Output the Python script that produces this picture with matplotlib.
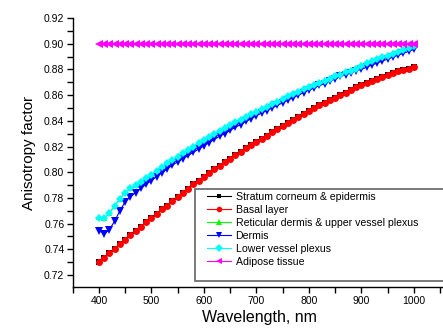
import matplotlib
matplotlib.use("Agg")
import matplotlib.pyplot as plt
from matplotlib.patches import Rectangle
from matplotlib.ticker import MultipleLocator, FormatStrFormatter

wavelength = list(range(400, 1001, 10))

basal = [0.730, 0.7335, 0.737, 0.7405, 0.744, 0.7475, 0.751, 0.7545, 0.7575, 0.761,
         0.764, 0.7675, 0.771, 0.774, 0.7775, 0.781, 0.784, 0.787, 0.7905, 0.7935,
         0.7965, 0.7995, 0.8025, 0.805, 0.808, 0.8105, 0.8135, 0.816, 0.8185, 0.821,
         0.8235, 0.826, 0.8285, 0.831, 0.8335, 0.836, 0.8385, 0.841, 0.843, 0.8455,
         0.848, 0.850, 0.852, 0.854, 0.856, 0.858, 0.860, 0.862, 0.864, 0.866,
         0.868, 0.8695, 0.871, 0.8725, 0.874, 0.8755, 0.877, 0.8785, 0.8795, 0.8805,
         0.8815]
stratum = list(basal)

dermis = [0.7545, 0.752, 0.7553, 0.762, 0.770, 0.777, 0.781, 0.784, 0.7875, 0.7906,
          0.7935, 0.7965, 0.7995, 0.8025, 0.8055, 0.808, 0.8105, 0.813, 0.8155, 0.818,
          0.8205, 0.823, 0.8255, 0.828, 0.830, 0.8325, 0.835, 0.837, 0.8395, 0.8415,
          0.844, 0.846, 0.848, 0.850, 0.852, 0.854, 0.856, 0.858, 0.860, 0.862,
          0.864, 0.8655, 0.8675, 0.869, 0.871, 0.8725, 0.8745, 0.876, 0.8775, 0.879,
          0.880, 0.8817, 0.8833, 0.8849, 0.8865, 0.888, 0.8896, 0.891, 0.8925, 0.894,
          0.8955]

lower_plexus = [0.7646, 0.764, 0.768, 0.7737, 0.779, 0.784, 0.7875, 0.790, 0.7926, 0.7952,
                0.798, 0.801, 0.804, 0.807, 0.8095, 0.812, 0.815, 0.8175, 0.820, 0.8225,
                0.825, 0.8275, 0.830, 0.832, 0.8345, 0.8365, 0.839, 0.841, 0.843, 0.845,
                0.847, 0.849, 0.851, 0.853, 0.855, 0.857, 0.859, 0.8608, 0.8625, 0.8645,
                0.866, 0.8678, 0.8695, 0.871, 0.8728, 0.8745, 0.876, 0.8776, 0.879, 0.8805,
                0.883, 0.8846, 0.8862, 0.8878, 0.8893, 0.8908, 0.8922, 0.8937, 0.8951, 0.8966,
                0.898]
reticular = [v + 0.0003 for v in lower_plexus]

adipose = [0.90] * len(wavelength)

labels = ["Stratum corneum & epidermis", "Basal layer",
          "Reticular dermis & upper vessel plexus", "Dermis",
          "Lower vessel plexus", "Adipose tissue"]

plt.rcParams['font.family'] = ['Liberation Sans', 'DejaVu Sans']

W, H = 443, 335
fig = plt.figure(figsize=(W / 100, H / 100), dpi=100)
ax = fig.add_axes([72.7 / W, (H - 287.3) / H, 710 * 0.5247 / W, 269.3 / H])

series = [
    (stratum, 'black', 's', 4.3),
    (basal, '#ff0000', 'o', 5.0),
    (reticular, '#00ff00', '^', 5.0),
    (dermis, '#0000ff', 'v', 5.5),
    (lower_plexus, '#00ffff', 'D', 4.5),
    (adipose, '#ff00ff', '<', 5.2),
]
handles = []
for (vals, col, mk, ms), lab in zip(series, labels):
    h, = ax.plot(wavelength, vals, color=col, marker=mk, markersize=ms,
                 linewidth=0.8, markeredgewidth=0, label=lab)
    handles.append(h)

ax.set_xlim(350, 1060)
ax.set_ylim(0.71043, 0.92)
ax.xaxis.set_major_locator(MultipleLocator(100))
ax.xaxis.set_minor_locator(MultipleLocator(50))
ax.yaxis.set_major_locator(MultipleLocator(0.02))
ax.yaxis.set_minor_locator(MultipleLocator(0.01))
ax.yaxis.set_major_formatter(FormatStrFormatter('%.2f'))
ax.spines['top'].set_visible(False)
ax.spines['right'].set_visible(False)
for s in ['left', 'bottom']:
    ax.spines[s].set_linewidth(1.0)
ax.tick_params(which='major', direction='out', length=4, width=1.0, labelsize=7.5, pad=2)
ax.tick_params(which='minor', direction='out', length=4, width=1.0)
ax.set_xlabel("Wavelength, nm", fontsize=11.5, labelpad=3)
ax.set_ylabel("Anisotropy factor", fontsize=11, labelpad=6)

leg = fig.legend(handles=handles, labels=labels, loc='upper left',
                 bbox_to_anchor=(207 / W, (H - 192) / H), frameon=False,
                 fontsize=7.6, handlelength=2.3, handletextpad=0.4,
                 labelspacing=0.28, markerscale=0.8, borderaxespad=0, borderpad=0)
fig.add_artist(Rectangle((195 / W, (H - 281) / H), 260 / W, 92 / H,
                         transform=fig.transFigure, fill=True, facecolor='white',
                         edgecolor='#707070', linewidth=1.3, zorder=2))
leg.set_zorder(3)

fig.savefig("out.png", dpi=100)
